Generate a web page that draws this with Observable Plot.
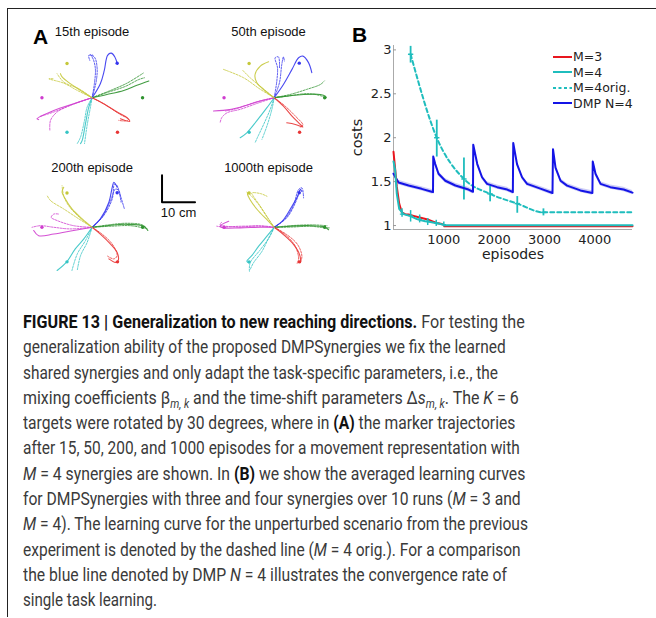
<!DOCTYPE html>
<html>
<head>
<meta charset="utf-8">
<script src="https://cdn.jsdelivr.net/npm/d3@7"></script>
<script src="https://cdn.jsdelivr.net/npm/@observablehq/plot@0.6"></script>
<style>
  html, body { margin: 0; padding: 0; background: #fff; }
  #page { position: relative; width: 656px; height: 618px; overflow: hidden; background: #fff; }
  #frame { position: absolute; left: 7px; top: 8px; width: 660px; height: 608px; border-top: 1.3px solid #222; border-left: 1.3px solid #222; }
  .plabel { position: absolute; font: bold 21px "Liberation Sans", Arial, sans-serif; color: #000; line-height: 1; }
  #plotA { position: absolute; left: 20px; top: 20px; }
  #plotB { position: absolute; left: 340px; top: 20px; }
  #legend { position: absolute; left: 553px; top: 49px; font: 12.5px "DejaVu Sans", sans-serif; color: #222; }
  #legend .row { height: 15.5px; display: flex; align-items: center; white-space: nowrap; }
  #legend svg { display: block; margin-right: 1px; }
  #caption { position: absolute; left: 23px; top: 309px; font-family: "Liberation Sans Narrow", Roboto, "Liberation Sans", sans-serif; font-size: 18px; line-height: 25.3px; color: #3a3a3a; }
  #caption .ln { white-space: nowrap; transform-origin: 0 0; height: 25.3px; }
  #caption b { color: #111; }
  #caption sub { font-size: 12px; vertical-align: -4px; line-height: 0; }
</style>
</head>
<body>
<div id="page">
  <div id="frame"></div>
  <div id="plotA"></div>
  <div id="plotB"></div>
  <div class="plabel" style="left:33px;top:26px;">A</div>
  <div class="plabel" style="left:352px;top:24px;">B</div>
  <div id="legend"></div>
  <div id="caption"></div>
</div>
<script>
// ---------------- Panel B data (learning curves) ----------------
const xTicksB = [1000, 2000, 3000, 4000];
const yTicksB = [1, 1.5, 2, 2.5, 3];
const legendLabels = ["M=3", "M=4", "M=4orig.", "DMP N=4"];

// [episode, cost]
const redM3 = [[0,1.84],[40,1.6],[66,1.44],[113,1.25],[166,1.15],[230,1.13],[300,1.125],[400,1.11],[500,1.095],[600,1.08],[700,1.065],[790,1.045],[860,1.03],[940,1.02],[995,1.01],[1010,0.992],[4750,0.992]];
const cyanM4 = [[0,1.73],[33,1.63],[66,1.36],[113,1.19],[200,1.13],[260,1.12],[330,1.11],[400,1.09],[465,1.075],[550,1.06],[630,1.05],[730,1.04],[830,1.03],[910,1.02],[995,1.01],[1010,1.003],[4750,1.003]];
// [episode, mean, low, high]
const cyanM4Err = [[170,1.13,1.095,1.19],[340,1.11,1.04,1.17],[520,1.07,1.03,1.12],[680,1.05,1.0,1.08],[850,1.03,0.99,1.06],[1000,1.01,0.985,1.04]];
const origM4 = [[340,2.95],[860,2.0],[1400,1.53],[1920,1.36],[2460,1.25],[2980,1.15],[4750,1.15]];
const origM4Err = [[340,2.95,2.85,3.04],[860,2.0,1.78,2.2],[1400,1.53,1.29,1.77],[1920,1.36,1.27,1.45],[2460,1.25,1.14,1.33],[2980,1.15,1.11,1.19]];
const dmpN4 = [[0,1.59],[100,1.49],[300,1.456],[560,1.418],[760,1.385],[785,1.38],[790,1.786],[830,1.70],[895,1.59],[1030,1.51],[1230,1.456],[1490,1.41],[1580,1.385],[1585,1.92],[1665,1.70],[1760,1.55],[1860,1.475],[2060,1.437],[2260,1.41],[2372,1.38],[2380,1.94],[2455,1.70],[2555,1.55],[2655,1.475],[2920,1.42],[3160,1.37],[3170,1.87],[3220,1.66],[3320,1.51],[3450,1.455],[3715,1.40],[3953,1.37],[3960,1.73],[4015,1.59],[4115,1.475],[4310,1.437],[4575,1.41],[4750,1.375]];
const dmpBand = 0.025; // half-width of shaded spread

// ---------------- Panel A data (trajectories, cm) ----------------
const episodeTitles = ["15th episode", "50th episode", "200th episode", "1000th episode"];
const targetsA = [
  {color:"blue", x:7.6, y:12.8}, {color:"green", x:15.3, y:0}, {color:"red", x:7.7, y:-12.8},
  {color:"cyan", x:-7.6, y:-12.8}, {color:"magenta", x:-15.2, y:0}, {color:"yellow", x:-7.6, y:12.7}
];
const colorsA = {blue:"#3535ee", green:"#2f922f", red:"#e83535", cyan:"#35c4c4", magenta:"#cf3dcf", yellow:"#c5c83a"};
// first path of each colour is the solid one, the others are dashed
const traj15 = {
  blue: [[[0,0],[2.5,5.2],[3.7,10.1],[4.7,15.7],[5.8,16.5],[6.9,15.1],[7.7,12.3]],
         [[0,0],[0.7,5.2],[1,10.7],[0.3,14.4],[-0.5,16],[0.3,15.7]],
         [[0,0],[1.3,6.4],[1.5,11.4],[0.7,15],[-1,15.7],[-0.7,13.8]]],
  green: [[[0,0],[4.5,1.2],[9.6,2.7],[13.6,4.6],[17.2,6.2]],
          [[0,0],[5.6,2.7],[10.6,5.4],[15.5,9.1]],
          [[0,0],[5,2.1],[10.1,4.2],[14.1,6.7],[15.9,7.4]]],
  red: [[[0,0],[3.5,-2.2],[7.6,-5.3],[10.6,-7.4],[11.4,-8.8],[8.6,-7.8]],
        [[0,0],[4,-2.6],[8.1,-5.9],[11.1,-8.1],[10.1,-8.6],[8.1,-8.4]]],
  cyan: [[[0,0],[-1,-3.5],[-2,-9.6],[-3,-15.8],[-3.5,-17]],
         [[0,0],[-0.5,-3.5],[-1.5,-10.2],[-2.3,-17]],
         [[0,0],[-1.5,-3.5],[-2.3,-8.4],[-3.5,-14.6],[-4.5,-17]]],
  magenta: [[[0,0],[-5.6,-2.2],[-11.6,-4.7],[-16.7,-7.8],[-16.2,-8.1]],
            [[0,0],[-6.1,-2.6],[-11.6,-5.3],[-15.7,-6.9]],
            [[0,0],[-6.6,-2.8],[-10.6,-5.3],[-12.6,-8.4],[-12.8,-12.1]]],
  yellow: [[[0,0],[-3.5,2.7],[-6.6,5.2],[-9.1,7.7],[-9.6,8.9]],
           [[0,0],[-4.5,2.7],[-8.6,5.4],[-13.1,7],[-11.6,7]],
           [[0,0],[-4,3.3],[-8.6,5.8],[-10.6,8.9]]]
};
const traj50 = {
  blue: [[[0,0],[2.8,4.9],[5.4,10.5],[7.4,14.8],[8.7,15.4],[10.4,13],[11.4,9.3]],
         [[0,0],[0.8,6.2],[1,11.1],[0.3,14.8],[1.3,15.1],[1.6,11.1]],
         [[0,0],[1.6,5.6],[2.3,12.3],[2.8,15.1],[3.1,13.6]]],
  green: [[[0,0],[3.8,0.6],[8.9,1.2],[14,1.2],[15.5,0.6],[15.8,0]],
          [[0,0],[4.8,1.2],[9.9,3.1],[14,4.9],[15.2,6.2]],
          [[0,0],[4.3,0.6],[9.9,1.5],[14.4,0.6],[15.5,-0.2]]],
  red: [[[0,0],[2.8,-3.1],[5.4,-6.8],[7.9,-9.9],[8.7,-10.9],[6.4,-9.9],[3.8,-9.3]],
        [[0,0],[3.3,-3.1],[6.4,-6.8],[8.7,-10.1],[7.9,-10.9]]],
  cyan: [[[0,0],[-2.2,-3.7],[-5.3,-8.6],[-8.3,-13],[-10.3,-14.8]],
         [[0,0],[-1.2,-4.3],[-3.2,-9.9],[-5.1,-14.8],[-5.8,-16.7]],
         [[0,0],[-0.7,-4.3],[-2.2,-10.5],[-3.7,-15.4]]],
  magenta: [[[0,0],[-4.2,-1.2],[-10.3,-3.5],[-15.4,-4.7],[-18.4,-4.9]],
            [[0,0],[-4.7,-1.9],[-10.3,-4.3],[-14.3,-5.6],[-15.9,-7.4],[-16.4,-9.3]],
            [[0,0],[-5.3,-1.5],[-11.3,-4],[-14.8,-4.9]]],
  yellow: [[[0,0],[-2.7,2.5],[-5.3,5.6],[-5.8,8.6],[-4.2,11.7],[-1.7,13.3]],
           [[0,0],[-4.2,3.1],[-9.3,7.4],[-15.4,10.5]],
           [[0,0],[-3.7,3.7],[-7.3,7.4],[-9.5,10.1]]]
};
const traj200 = {
  blue: [[[0,0],[2.5,3.1],[5.1,9.3],[6.1,14.8],[6.6,16.7],[7.6,14.8]],
         [[0,0],[3,3.7],[5.6,9.9],[7.1,14.2],[8.1,13.6],[8.6,11.7],[9.8,6.8]],
         [[0,0],[3.5,4.3],[6.1,10.5],[6.8,16],[7.6,15.4],[8.8,9.3]]],
  green: [[[0,0],[4.5,0.6],[10.6,1.1],[15.7,0.4],[16.9,-1.2]],
          [[0,0],[5,0.9],[10.6,1.5],[15.2,0.9],[16.7,-0.6]],
          [[0,0],[5.6,0.4],[11.6,0.6],[16.2,-0.4]]],
  red: [[[0,0],[2.5,-2.5],[5.6,-6.2],[7.6,-9.3],[7.9,-12.3],[7.1,-13],[5.1,-11.7]],
        [[0,0],[3,-2.5],[6.1,-6.2],[7.6,-10.5],[6.6,-11.7],[4.7,-10.7]]],
  cyan: [[[0,0],[-2.5,-4.3],[-5.1,-8],[-7.6,-12.7],[-10.6,-16]],
         [[0,0],[-2,-4.9],[-4.5,-9.9],[-6.1,-16]],
         [[0,0],[-1.5,-5.6],[-3.5,-10.5],[-4.5,-16]]],
  magenta: [[[0,0],[-5.6,-1.2],[-11.6,-2.5],[-16.2,-3.1],[-17.7,-1.2]],
            [[0,0],[-6.6,-0.6],[-11.6,0],[-15.7,0.6],[-18.2,0]],
            [[0,0],[-5.6,0.6],[-10.6,2.5],[-12.4,3.7],[-11.6,4.9],[-10.1,4.9]]],
  yellow: [[[0,0],[-3,3.1],[-6.1,6.8],[-8.1,10.5],[-9.1,13],[-8.6,14.8]],
           [[0,0],[-4,3.1],[-8.6,6.8],[-12.6,9.9],[-13.6,11.7]],
           [[0,0],[-3.5,3.3],[-7.1,8],[-8.6,11.7],[-9.1,15.4]]]
};
const traj1000 = {
  blue: [[[0,0],[2.8,2.8],[5.4,7.8],[7.1,11.5],[7.9,14],[8.4,13.3]],
         [[0,0],[3.3,3.1],[5.9,8.4],[7.4,14],[8.4,14.6],[8.9,10.9]],
         [[0,0],[3.8,3.5],[6.4,9],[7.7,13.3],[8.1,14.2]]],
  green: [[[0,0],[4.8,0.4],[10.9,0.6],[15.2,0.1],[16.5,-0.9]],
          [[0,0],[5.4,0.1],[10.9,0.4],[15.5,-0.2],[16.8,-0.2]],
          [[0,0],[5,0.6],[11.4,0.9],[16,0.6]]],
  red: [[[0,0],[2.8,-2.7],[5.9,-6.4],[7.7,-10.1],[7.9,-12.6],[7.1,-13.2]],
        [[0,0],[3.3,-2.7],[6.4,-7],[7.4,-12],[6.9,-13.2]],
        [[0,0],[3.8,-2.7],[7.1,-6.4],[8.4,-10.7],[7.9,-13.2]]],
  cyan: [[[0,0],[-2.2,-3.3],[-4.7,-7],[-6.8,-10.5],[-8.3,-12.6],[-7.7,-13.2]],
         [[0,0],[-1.7,-4],[-3.7,-8.9],[-6.3,-13.2],[-7.3,-15.7]],
         [[0,0],[-1.4,-3.6],[-4.2,-8.3],[-7.3,-13.2],[-7.5,-16.3]]],
  magenta: [[[0,0],[-4.2,0],[-10.3,-0.2],[-15.4,-0.2],[-16.4,0.4],[-13.8,2.2]],
            [[0,0],[-4.7,0.4],[-10.3,0.4],[-15.4,0.1],[-17.4,0.4]],
            [[0,0],[-4.2,0.6],[-11.3,0.1],[-16.4,1],[-15.9,1.9]]],
  yellow: [[[0,0],[-2.2,2.8],[-5.1,6.5],[-7.3,10.2],[-8.1,12.5],[-7.7,13]],
           [[0,0],[-1.7,3.1],[-4.2,7.8],[-6.3,11.5],[-6.8,12.7],[-4.2,12.5],[-2.2,11.5]],
           [[0,0],[-2,3.5],[-4.7,8.4],[-7.3,12.1],[-8.3,13]]]
};
const scaleBarCm = 10;
const scaleBarLabel = "10 cm";

// ---------------- Panel A ----------------
const panelsA = [traj15, traj50, traj200, traj1000];
const colStep = 55.2, rowStep = 48;
const rowsA = [], dotsA = [];
panelsA.forEach((traj, i) => {
  const ox = (i % 2) * colStep, oy = -Math.floor(i / 2) * rowStep;
  for (const c of Object.keys(traj)) {
    traj[c].forEach((path, j) => {
      path.forEach(([x, y]) => rowsA.push({id: `${i}-${c}-${j}`, solid: j === 0, stroke: colorsA[c], x: x + ox, y: y + oy}));
    });
  }
  for (const t of targetsA) dotsA.push({x: t.x + ox, y: t.y + oy, fill: colorsA[t.color]});
});
const titleLift = [22.7, 20.5];
const barX = 21.2, barY = -38.7;
const scaleBar = [{x: barX, y: barY + scaleBarCm}, {x: barX, y: barY}, {x: barX + scaleBarCm, y: barY}];

const plotA = Plot.plot({
  width: 320, height: 250, margin: 0,
  x: {domain: [-21.7, 75.3], axis: null},
  y: {domain: [-64, 28.6], axis: null},
  color: {type: "identity"},
  style: {background: "transparent", overflow: "visible"},
  marks: [
    Plot.line(rowsA.filter(d => !d.solid), {x: "x", y: "y", z: "id", stroke: "stroke", strokeWidth: 1, strokeDasharray: "2,1.3", strokeOpacity: 0.8, curve: "catmull-rom"}),
    Plot.line(rowsA.filter(d => d.solid), {x: "x", y: "y", z: "id", stroke: "stroke", strokeWidth: 1.1, strokeOpacity: 0.9, curve: "catmull-rom"}),
    Plot.dot(dotsA, {x: "x", y: "y", fill: "fill", r: 1.7, stroke: null}),
    Plot.text(episodeTitles, {x: (d, i) => (i % 2) * 53.5, y: (d, i) => -Math.floor(i / 2) * rowStep + titleLift[Math.floor(i / 2)], text: d => d, lineAnchor: "bottom", fontSize: 13, fontFamily: "Liberation Sans, Arial, sans-serif", fill: "#111"}),
    Plot.line(scaleBar, {x: "x", y: "y", stroke: "#000", strokeWidth: 2}),
    Plot.text([scaleBarLabel], {x: barX + scaleBarCm / 2, y: barY, text: d => d, lineAnchor: "bottom", dy: 15, fontSize: 13, fontFamily: "Liberation Sans, Arial, sans-serif", fill: "#111"})
  ]
});
document.getElementById("plotA").append(plotA);

// ---------------- Panel B ----------------
const toObj = a => a.map(([x, y]) => ({x, y}));
const red = toObj(redM3), cyan = toObj(cyanM4), orig = toObj(origM4);
const dmp = dmpN4.map(([x, y]) => ({x, y, lo: y - dmpBand, hi: y + dmpBand}));
const errObj = a => a.map(([x, y, lo, hi]) => ({x, y, lo, hi}));
const cErr = errObj(cyanM4Err), oErr = errObj(origM4Err);
const cRed = "#e8161e", cCyan = "#1fbdbd", cBlue = "#1414e6";
const hbar = {draw(ctx, size) { const r = Math.sqrt(size) / 2; ctx.moveTo(-r, 0); ctx.lineTo(r, 0); }};
const yMin = 0.955;

const plotB = Plot.plot({
  width: 316, height: 250,
  marginLeft: 53, marginRight: 24, marginTop: 25, marginBottom: 41,
  x: {domain: [0, 4750]},
  y: {domain: [yMin, 3.05]},
  style: {fontFamily: "DejaVu Sans, sans-serif", fontSize: "13px", color: "#222", background: "transparent", overflow: "visible"},
  marks: [
    Plot.ruleY([yMin], {stroke: "#aaa", strokeWidth: 1}),
    Plot.ruleX([0], {stroke: "#aaa", strokeWidth: 1}),
    Plot.axisY({ticks: yTicksB, tickSize: 3, dx: 3, tickFormat: () => "", stroke: "#999"}),
    Plot.axisY({ticks: yTicksB, tickSize: 0, tickPadding: 2, tickFormat: d => String(d), label: null, fontSize: 13}),
    Plot.axisX({ticks: xTicksB, tickSize: 0, tickPadding: 5, tickFormat: d => String(d), label: null, fontSize: 13}),
    Plot.areaY(dmp, {x: "x", y1: "lo", y2: "hi", fill: "#b8b8f2", fillOpacity: 0.7}),
    Plot.line(orig, {x: "x", y: "y", stroke: cCyan, strokeWidth: 2, strokeDasharray: "4,3", curve: "monotone-x"}),
    Plot.ruleX(oErr, {x: "x", y1: "lo", y2: "hi", stroke: cCyan, strokeWidth: 1.8}),
    Plot.dot(oErr, {x: "x", y: "y", symbol: hbar, r: 3, stroke: cCyan, strokeWidth: 1.5}),
    Plot.line(dmp, {x: "x", y: "y", stroke: cBlue, strokeWidth: 2}),
    Plot.line(red, {x: "x", y: "y", stroke: cRed, strokeWidth: 2}),
    Plot.line(cyan, {x: "x", y: "y", stroke: cCyan, strokeWidth: 2}),
    Plot.ruleX(cErr, {x: "x", y1: "lo", y2: "hi", stroke: cCyan, strokeWidth: 1.5}),
    Plot.dot(cErr, {x: "x", y: "y", symbol: hbar, r: 2.5, stroke: cCyan, strokeWidth: 1.2}),
    Plot.text(["costs"], {frameAnchor: "left", rotate: -90, dx: -36, text: d => d, textAnchor: "middle", lineAnchor: "middle", fontSize: 14.5, fill: "#222"}),
    Plot.text(["episodes"], {frameAnchor: "bottom", dy: 25, text: d => d, textAnchor: "middle", lineAnchor: "middle", fontSize: 14, fill: "#222"})
  ]
});
document.getElementById("plotB").append(plotB);

// legend (HTML)
const legendStyles = [
  {stroke: cRed, dash: null}, {stroke: cCyan, dash: null}, {stroke: cCyan, dash: "3,2.5"}, {stroke: cBlue, dash: null}
];
const legend = document.getElementById("legend");
legendLabels.forEach((lab, i) => {
  const row = document.createElement("div");
  row.className = "row";
  const s = legendStyles[i];
  row.innerHTML = `<svg width="19" height="6"><line x1="0" y1="3" x2="19" y2="3" stroke="${s.stroke}" stroke-width="2" ${s.dash ? `stroke-dasharray="${s.dash}"` : ""}/></svg><span>${lab}</span>`;
  legend.append(row);
});

// ---------------- Caption ----------------
const captionLines = [
  `<b>FIGURE 13 | Generalization to new reaching directions.</b> For testing the`,
  `generalization ability of the proposed DMPSynergies we fix the learned`,
  `shared synergies and only adapt the task-specific parameters, i.e., the`,
  `mixing coefficients β<sub><i>m, k</i></sub> and the time-shift parameters Δ<i>s</i><sub><i>m, k</i></sub>. The <i>K</i> = 6`,
  `targets were rotated by 30 degrees, where in <b>(A)</b> the marker trajectories`,
  `after 15, 50, 200, and 1000 episodes for a movement representation with`,
  `<i>M</i> = 4 synergies are shown. In <b>(B)</b> we show the averaged learning curves`,
  `for DMPSynergies with three and four synergies over 10 runs (<i>M</i> = 3 and`,
  `<i>M</i> = 4). The learning curve for the unperturbed scenario from the previous`,
  `experiment is denoted by the dashed line (<i>M</i> = 4 orig.). For a comparison`,
  `the blue line denoted by DMP <i>N</i> = 4 illustrates the convergence rate of`,
  `single task learning.`
];
const captionWidths = [501.7, 482.7, 475, 495.7, 492.3, 496.7, 502.3, 497.7, 505, 497.7, 484, 134];
const cap = document.getElementById("caption");
const spans = captionLines.map(html => {
  const div = document.createElement("div");
  div.className = "ln";
  const sp = document.createElement("span");
  sp.innerHTML = html;
  div.append(sp);
  cap.append(div);
  return sp;
});
function fit() {
  spans.forEach((sp, i) => {
    sp.parentNode.style.transform = "none";
    const w = sp.getBoundingClientRect().width;
    if (w > 0) sp.parentNode.style.transform = `scaleX(${captionWidths[i] / w})`;
  });
}
fit();
if (document.fonts && document.fonts.ready) document.fonts.ready.then(fit);
</script>
</body>
</html>
